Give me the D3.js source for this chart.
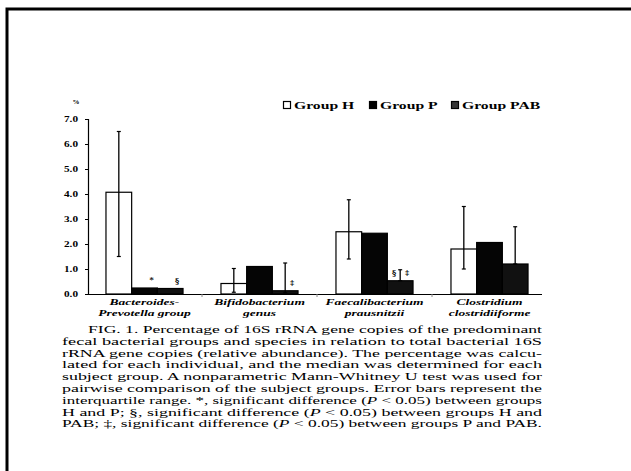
<!DOCTYPE html>
<html><head><meta charset="utf-8">
<script src="https://cdn.jsdelivr.net/npm/d3@7"></script>
<style>body{margin:0;background:#fff}svg{display:block}</style>
</head><body>
<svg id="c" width="631" height="471"></svg>
<script>
// Median relative abundance (%) of 16S rRNA gene copies per subject group
const categories = ["Bacteroides-Prevotella group", "Bifidobacterium genus", "Faecalibacterium prausnitzii", "Clostridium clostridiiforme"];
const categoryLines = [["Bacteroides-", "Prevotella group"], ["Bifidobacterium", "genus"], ["Faecalibacterium", "prausnitzii"], ["Clostridium", "clostridiiforme"]];
const groups = ["Group H", "Group P", "Group PAB"];
const valuesH = [4.07, 0.42, 2.49, 1.80];
const valuesP = [0.24, 1.10, 2.43, 2.06];
const valuesPAB = [0.22, 0.13, 0.53, 1.20];
// interquartile ranges (null = not drawn)
const iqrLowH = [1.5, 0.07, 1.4, 1.0];
const iqrHighH = [6.5, 1.02, 3.77, 3.5];
const iqrLowP = [null, null, null, null];
const iqrHighP = [null, null, null, null];
const iqrLowPAB = [null, 0.05, 0.53, 1.2];
const iqrHighPAB = [null, 1.24, 0.97, 2.69];
// significance markers
const sigH = ["", "", "", ""];
const sigP = ["*", "", "", ""];
const sigPAB = ["§", "‡", "§ ‡", ""];
const yTicks = [0, 1, 2, 3, 4, 5, 6, 7];
const captionLines = [
  "FIG. 1. Percentage of 16S rRNA gene copies of the predominant",
  "fecal bacterial groups and species in relation to total bacterial 16S",
  "rRNA gene copies (relative abundance). The percentage was calcu-",
  "lated for each individual, and the median was determined for each",
  "subject group. A nonparametric Mann-Whitney U test was used for",
  "pairwise comparison of the subject groups. Error bars represent the",
  "interquartile range. *, significant difference (P < 0.05) between groups",
  "H and P; §, significant difference (P < 0.05) between groups H and",
  "PAB; ‡, significant difference (P < 0.05) between groups P and PAB."
];

const values = [valuesH, valuesP, valuesPAB];
const lows = [iqrLowH, iqrLowP, iqrLowPAB];
const highs = [iqrHighH, iqrHighP, iqrHighPAB];
const sigs = [sigH, sigP, sigPAB];

const svg = d3.select("#c");
const serif = "'Liberation Serif','Times New Roman',serif";
const symFont = "'DejaVu Serif','Liberation Serif',serif";

// widen a text horizontally by a factor (the print face is broad)
function widen(sel, k) {
  sel.each(function () {
    const w = this.getComputedTextLength();
    d3.select(this).attr("textLength", w * k).attr("lengthAdjust", "spacingAndGlyphs");
  });
}

// page frame
svg.append("path").attr("d", "M7,471V9H631").attr("fill", "none")
  .attr("stroke", "#000").attr("stroke-width", 3);

const x0 = d3.scaleBand().domain(categories).range([87, 547]).paddingInner(0.33).paddingOuter(0.165);
const x1 = d3.scaleBand().domain(groups).range([0, x0.bandwidth()]);
const y = d3.scaleLinear().domain([0, 7]).range([294, 119]);

// y axis
const yAxis = svg.append("g").attr("transform", "translate(88,0)")
  .call(d3.axisLeft(y).tickValues(yTicks).tickFormat(d3.format(".1f")).tickSize(3).tickPadding(7));
yAxis.select(".domain").attr("stroke-width", 1.2);
yAxis.selectAll("text").attr("font-family", serif).attr("font-weight", "bold").attr("font-size", 8)
  .attr("textLength", 14).attr("lengthAdjust", "spacingAndGlyphs");
svg.append("text").attr("x", 76).attr("y", 104).attr("text-anchor", "middle")
  .attr("font-family", serif).attr("font-weight", "bold").attr("font-size", 7).text("%");

// x baseline with category separators
svg.append("line").attr("x1", 88).attr("x2", 542).attr("y1", 294.5).attr("y2", 294.5)
  .attr("stroke", "#000").attr("stroke-width", 1.2);
categories.slice(1).forEach(c => {
  const bx = x0(c) - x0.step() * x0.paddingInner() / 2;
  svg.append("line").attr("x1", bx).attr("x2", bx).attr("y1", 294).attr("y2", 297)
    .attr("stroke", "#888").attr("stroke-width", 1);
});

const fills = ["#fff", "#050505", "#111"];
const cat = svg.append("g").selectAll("g").data(categories).join("g")
  .attr("transform", d => `translate(${x0(d)},0)`);

cat.each(function (c, ci) {
  const g = d3.select(this);
  // bars
  groups.forEach((gr, gi) => {
    const v = values[gi][ci];
    g.append("rect").attr("x", x1(gr)).attr("width", x1.bandwidth())
      .attr("y", y(v)).attr("height", y(0) - y(v))
      .attr("fill", fills[gi]).attr("stroke", "#000").attr("stroke-width", 1.2);
  });
  // error bars (interquartile range)
  groups.forEach((gr, gi) => {
    const lo = lows[gi][ci], hi = highs[gi][ci];
    if (lo == null || hi == null) return;
    const cx = x1(gr) + x1.bandwidth() / 2;
    g.append("line").attr("x1", cx).attr("x2", cx).attr("y1", y(lo)).attr("y2", y(hi))
      .attr("stroke", "#000").attr("stroke-width", 1.3);
    [lo, hi].forEach(v => g.append("line").attr("x1", cx - 2).attr("x2", cx + 2)
      .attr("y1", y(v)).attr("y2", y(v)).attr("stroke", "#000").attr("stroke-width", 1.2));
  });
  // significance markers
  groups.forEach((gr, gi) => {
    const s = sigs[gi][ci];
    if (!s) return;
    const cx = x1(gr) + x1.bandwidth() / 2;
    const v = values[gi][ci];
    const parts = s.split(" ");
    const offs = parts.length > 1 ? [-6, 7] : [7];
    parts.forEach((p, pi) => {
      g.append("text").attr("x", cx + offs[pi]).attr("y", y(v) - 6)
        .attr("text-anchor", "middle").attr("font-family", symFont).attr("font-weight", "bold")
        .attr("font-size", 8).attr("fill", "#000").text(p);
    });
  });
  // category label
  categoryLines[ci].forEach((line, li) => {
    g.append("text").attr("text-anchor", "middle").attr("font-family", serif)
      .attr("font-style", "italic").attr("font-weight", "bold").attr("font-size", 9)
      .attr("x", x0.bandwidth() / 2).attr("y", 305 + li * 11).text(line)
      .call(widen, 1.5);
  });
});

// legend
const legendX = [283, 369, 451];
const lg = svg.append("g").selectAll("g").data(groups).join("g")
  .attr("transform", (d, i) => `translate(${legendX[i]},101)`);
lg.append("rect").attr("x", 0.5).attr("y", 0.5).attr("width", 7).attr("height", 7)
  .attr("fill", (d, i) => i === 0 ? "#fff" : (i === 1 ? "#000" : "#333"))
  .attr("stroke", "#000").attr("stroke-width", 1.2);
lg.append("text").attr("x", 11).attr("y", 8).attr("font-family", serif).attr("font-weight", "bold")
  .attr("font-size", 9.5).text(d => d).call(widen, 1.65);

// caption, justified to a fixed measure
const cap = svg.append("g").attr("font-family", serif).attr("font-size", 11).attr("fill", "#000");
captionLines.forEach((line, i) => {
  const x = i === 0 ? 88 : 62;
  const t = cap.append("text").attr("x", x).attr("y", 333 + i * 11.8)
    .attr("textLength", 542 - x).attr("lengthAdjust", "spacingAndGlyphs");
  line.split(/(\(P)/).forEach(part => {
    if (part === "(P") {
      t.append("tspan").text("(");
      t.append("tspan").attr("font-style", "italic").text("P");
    } else t.append("tspan").text(part);
  });
});
</script>
</body></html>
